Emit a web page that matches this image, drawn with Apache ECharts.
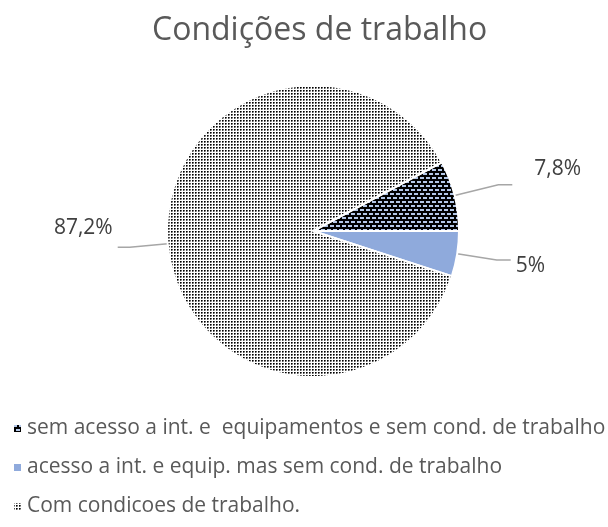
<!DOCTYPE html>
<html>
<head>
<meta charset="utf-8">
<script src="https://cdn.jsdelivr.net/npm/echarts@6/dist/echarts.min.js"></script>
<style>
html, body { margin: 0; padding: 0; background: #fff; }
#chartBox { width: 608px; height: 527px; }
</style>
</head>
<body>
<div id="chartBox"></div>
<script>
// dados do gráfico
const categories = [
    'sem acesso a int. e  equipamentos e sem cond. de trabalho',
    'acesso a int. e equip. mas sem cond. de trabalho',
    'Com condicoes de trabalho.'
];
const values = [7.8, 5, 87.2];

// padrão pontilhado (fatia grande)
function dotPattern() {
    let c = document.createElement('canvas');
    c.width = 3; c.height = 3;
    let ctx = c.getContext('2d');
    ctx.fillStyle = '#ffffff';
    ctx.fillRect(0, 0, 3, 3);
    ctx.fillStyle = '#000000';
    ctx.fillRect(0, 0, 1, 1);
    ctx.fillStyle = '#555555';
    ctx.fillRect(1, 0, 1, 1);
    ctx.fillRect(0, 1, 1, 1);
    ctx.fillStyle = '#aaaaaa';
    ctx.fillRect(1, 1, 1, 1);
    return c;
}

// padrão preto com traços azuis
function dashPattern() {
    let c = document.createElement('canvas');
    c.width = 6; c.height = 8;
    let ctx = c.getContext('2d');
    ctx.fillStyle = '#000000';
    ctx.fillRect(0, 0, 6, 8);
    ctx.fillStyle = '#b4c7e7';
    ctx.fillRect(0, 1, 4, 2);
    ctx.fillRect(3, 5, 3, 2);
    ctx.fillRect(0, 5, 1, 2);
    return c;
}

const colors = [
    {image: dashPattern(), repeat: 'repeat'},
    '#8faadc',
    {image: dotPattern(), repeat: 'repeat'}
];

// ajustes de rótulo por fatia (texto acima/abaixo da linha, como no Excel)
const labelPad = [[0, 0, 0, 17], [0, 0, 0, 0], [0, 0, 0, 0]];
const labelLH = [32, 12, 38];
const labelBelow = [false, true, false];
const lineLen = [[45, 14], [40, 14], [38, 12]];

let chartBox = echarts.init(document.getElementById('chartBox'));
let option = {
    animation: false,
    title: {
        text: 'Condições de trabalho', left: 147, top: 10,
        textStyle: {color: '#595959', fontSize: 32, fontWeight: 'normal', fontFamily: 'Open Sans'}
    },
    legend: {
        orient: 'vertical', left: 7, top: 413, itemGap: 18,
        itemWidth: 9, itemHeight: 9, icon: 'rect',
        textStyle: {color: '#595959', fontSize: 21, fontFamily: 'Open Sans'},
        data: categories
    },
    series: [{
        type: 'pie',
        center: [313, 231],
        radius: 146,
        startAngle: values[0] * 3.6,
        clockwise: true,
        itemStyle: {borderColor: '#ffffff', borderWidth: 2},
        label: {
            show: true,
            color: '#404040', fontSize: 21, fontFamily: 'Open Sans',
            formatter: function (p) {
                let txt = String(p.value).replace('.', ',') + '%';
                return labelBelow[p.dataIndex] ? ' \n' + txt : txt + '\n ';
            }
        },
        labelLine: {lineStyle: {color: '#a6a6a6', width: 1.5}},
        data: categories.map(function (name, i) {
            return {
                name: name, value: values[i],
                itemStyle: {color: colors[i]},
                label: {padding: labelPad[i], lineHeight: labelLH[i]},
                labelLine: {length: lineLen[i][0], length2: lineLen[i][1]}
            };
        })
    }]
};
chartBox.setOption(option);
</script>
</body>
</html>
